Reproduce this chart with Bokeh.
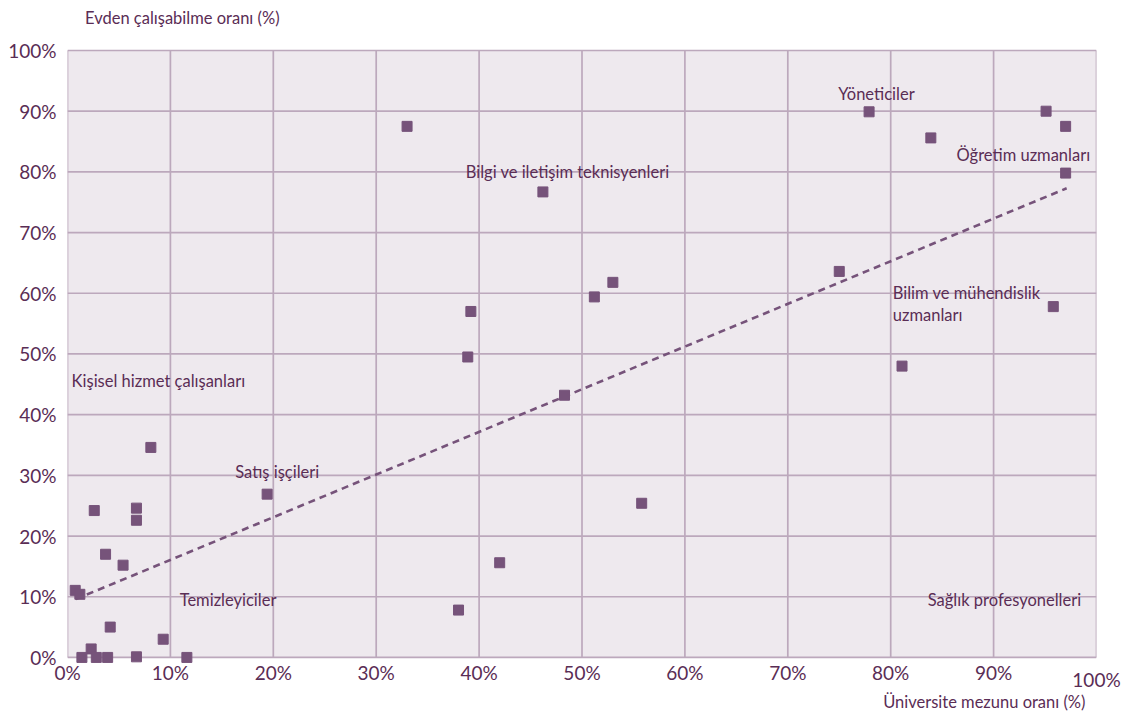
from bokeh.plotting import figure
from bokeh.models import Range1d, FixedTicker, BoxAnnotation, Label, Title, LinearAxis
from bokeh.embed import file_html
from bokeh.resources import INLINE

# ---- data (percent) ----
grad_share = [33.0, 46.2, 39.2, 38.9, 51.2, 53.0, 48.3, 55.8, 42.0, 38.0,
              75.0, 81.1, 77.9, 83.9, 95.1, 97.0, 97.0, 95.8,
              19.4, 8.1, 2.6, 6.7, 6.7, 3.7, 5.4, 0.75, 1.2, 4.15, 9.3, 2.3,
              1.4, 2.8, 3.9, 6.7, 11.6]
home_share = [87.5, 76.7, 57.0, 49.5, 59.4, 61.8, 43.2, 25.4, 15.6, 7.8,
              63.6, 48.0, 89.9, 85.6, 90.0, 87.5, 79.8, 57.8,
              26.9, 34.6, 24.2, 24.6, 22.6, 17.0, 15.2, 11.05, 10.4, 5.0, 3.0, 1.4,
              0.0, 0.0, 0.0, 0.1, 0.0]
trend_x = [0.8, 97.1]
trend_y = [9.6, 77.3]
ticks = [0, 10, 20, 30, 40, 50, 60, 70, 80, 90, 100]

group_names = ["Kişisel hizmet çalışanları", "Satış işçileri", "Temizleyiciler",
               "Bilgi ve iletişim teknisyenleri", "Yöneticiler", "Öğretim uzmanları",
               "Bilim ve mühendislik", "uzmanları", "Sağlık profesyonelleri"]
group_x = [0.4, 16.3, 10.9, 38.7, 74.9, 86.4, 80.2, 80.2, 83.6]
group_y = [45.5, 30.5, 9.4, 79.9, 92.9, 82.8, 60.1, 56.5, 9.4]

y_title = "Evden çalışabilme oranı (%)"
x_title = "Üniversite mezunu oranı (%)"

# ---- styles ----
BG = "#EEE9EE"
GRID = "#BCA8BC"
MARK = "#76537A"
TEXT = "#5A2D55"
FONT = "Lato"
TICK_SIZE = "19px"
LABEL_SIZE = "16.5px"

p = figure(frame_width=1029, frame_height=655,
           min_border_left=67, min_border_right=27, min_border_top=8, min_border_bottom=50,
           x_range=Range1d(0, 100), y_range=Range1d(-1.0, 106.92),
           title_location=None,
           output_backend="svg", toolbar_location=None)
p.background_fill_color = "white"
p.border_fill_color = "white"
p.outline_line_color = None
p.xgrid.visible = False
p.ygrid.visible = False

p.add_layout(BoxAnnotation(left=0, right=100, bottom=0, top=100,
                           fill_color=BG, fill_alpha=1, line_color=None, level="underlay"))

# gridlines
p.segment(x0=ticks, y0=[0] * len(ticks), x1=ticks, y1=[100] * len(ticks),
          line_color=GRID, line_width=1.7)
p.segment(x0=[0] * len(ticks), y0=ticks, x1=[100] * len(ticks), y1=ticks,
          line_color=GRID, line_width=1.7)

# trend
p.line(trend_x, trend_y, line_color=MARK, line_width=2.6, line_dash="7 5")

# points
p.scatter(grad_share, home_share, marker="square", size=10,
          fill_color=MARK, line_color=MARK)


def style_axis(ax, tks):
    ax.ticker = FixedTicker(ticks=tks)
    ax.axis_line_color = None
    ax.major_tick_line_color = None
    ax.minor_tick_line_color = None
    ax.major_tick_out = 0
    ax.major_tick_in = 0
    ax.minor_tick_out = 0
    ax.minor_tick_in = 0
    ax.major_label_text_font = FONT
    ax.major_label_text_font_size = TICK_SIZE
    ax.major_label_text_color = TEXT
    ax.major_label_overrides = {t: f"{t}%" for t in tks}


style_axis(p.xaxis[0], ticks[:-1])
style_axis(p.yaxis[0], ticks)
p.xaxis[0].major_label_standoff = -3
p.yaxis[0].major_label_standoff = 11

# the 100% label of the x axis sits a little lower in the original
x_end_axis = LinearAxis()
style_axis(x_end_axis, ticks[-1:])
x_end_axis.major_label_standoff = -19
p.add_layout(x_end_axis, "below")

xt = Title(text=x_title, align="right", offset=11, standoff=-7,
           text_font=FONT, text_font_size=LABEL_SIZE, text_font_style="normal",
           text_color=TEXT)
p.add_layout(xt, "below")

p.add_layout(Label(x=1.7, y=105.3, text=y_title, text_align="left", text_baseline="middle",
                   text_font=FONT, text_font_size=LABEL_SIZE, text_color=TEXT))

for name, gx, gy in zip(group_names, group_x, group_y):
    p.add_layout(Label(x=gx, y=gy, text=name, text_align="left", text_baseline="middle",
                       text_font=FONT, text_font_size=LABEL_SIZE, text_color=TEXT))

open("out.html", "w").write(file_html(p, INLINE))
